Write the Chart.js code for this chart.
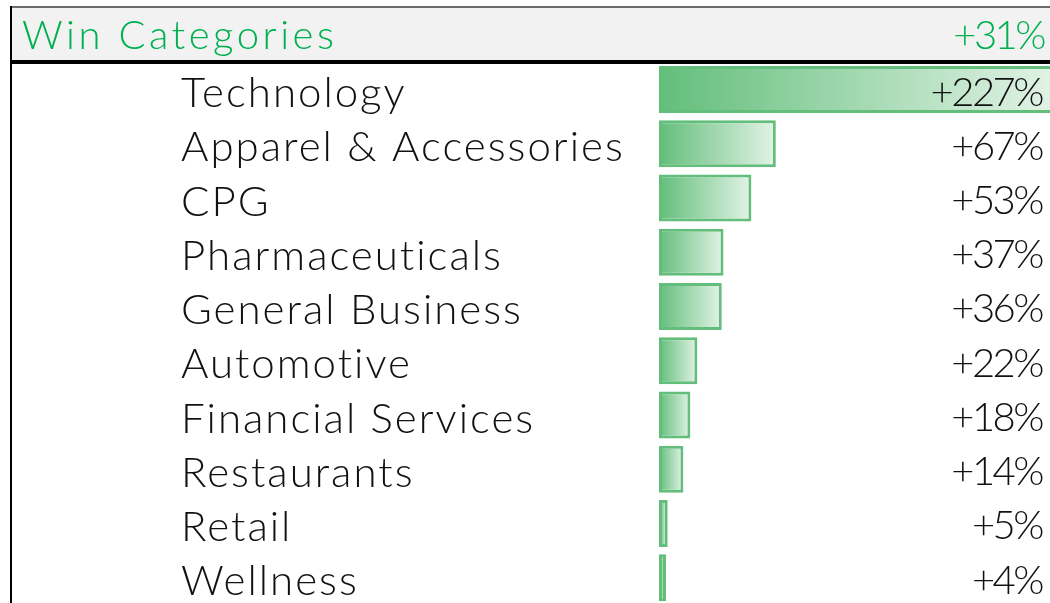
<!DOCTYPE html>
<html>
<head>
<meta charset="utf-8">
<title>Win Categories</title>
<script src="https://cdn.jsdelivr.net/npm/chart.js@4"></script>
<style>
  html, body { margin: 0; padding: 0; background: #fff; }
  #wrap { width: 1050px; height: 603px; overflow: hidden; position: relative; }
  #chart { display: block; }
</style>
</head>
<body>
<div id="wrap">
  <canvas id="chart" width="1060" height="630"></canvas>
</div>
<script>
// win categories, growth vs last year

const headerTitle = 'Win Categories';
const headerTotal = 31;

const categories = [
  'Technology',
  'Apparel & Accessories',
  'CPG',
  'Pharmaceuticals',
  'General Business',
  'Automotive',
  'Financial Services',
  'Restaurants',
  'Retail',
  'Wellness'
];
const growth = [227, 67, 53, 37, 36, 22, 18, 14, 5, 4];

const GREEN = '#00B050';
const BAR_GREEN = '#63BE7B';
const FONT = 'Lato';
const TEXT_RIGHT = 1042;

function pct(v){
  return '+' + v + '%';
}

// gray header band with title and total, plus the table borders
const headerPlugin = {
  id: 'header',
  beforeDraw(chart){
    const c = chart.ctx;
    c.save();
    c.fillStyle = '#f2f2f2';
    c.fillRect(12, 8, chart.width, 52);
    c.fillStyle = '#6b6b6b';
    c.fillRect(12, 6, chart.width, 2);
    c.fillStyle = '#000';
    c.fillRect(10, 6, 2, chart.height);
    c.fillRect(12, 60, chart.width, 4);

    c.fillStyle = GREEN;
    c.textBaseline = 'alphabetic';
    c.font = '300 40px ' + FONT;
    c.letterSpacing = '3.5px';
    c.textAlign = 'left';
    c.fillText(headerTitle, 22, 49);
    c.letterSpacing = '-2.5px';
    c.textAlign = 'right';
    c.fillText(pct(headerTotal), TEXT_RIGHT + 2, 49);
    c.restore();
    // spacing used by the category tick labels
    c.letterSpacing = '2px';
  }
};

// value text at the right edge of each row
const valuePlugin = {
  id: 'values',
  afterDatasetsDraw(chart){
    const c = chart.ctx;
    const meta = chart.getDatasetMeta(0);
    c.save();
    c.fillStyle = '#111';
    c.font = '300 40px ' + FONT;
    c.letterSpacing = '-2.5px';
    c.textAlign = 'right';
    c.textBaseline = 'alphabetic';
    meta.data.forEach((bar, i) => {
      c.fillText(pct(growth[i]), TEXT_RIGHT, bar.y + 16);
    });
    c.restore();
  }
};

function barGradient(ctx){
  const chart = ctx.chart;
  if (!chart.chartArea) return BAR_GREEN;
  const x = chart.scales.x;
  const x0 = x.getPixelForValue(0);
  const x1 = x.getPixelForValue(ctx.raw);
  const g = chart.ctx.createLinearGradient(x0, 0, x1, 0);
  g.addColorStop(0, BAR_GREEN);
  g.addColorStop(1, '#e2f3e6');
  return g;
}

const ctx = document.getElementById('chart').getContext('2d');
const myChart = new Chart(ctx, {
  type: 'bar',
  data: {
    labels: categories,
    datasets: [{
      data: growth,
      backgroundColor: barGradient,
      borderColor: BAR_GREEN,
      borderWidth: 3,
      borderSkipped: false,
      categoryPercentage: 1,
      barPercentage: 0.866
    }]
  },
  options: {
    indexAxis: 'y',
    responsive: false,
    animation: false,
    layout: {
      padding: { left: 181, top: 62.4, right: 0, bottom: 0 }
    },
    plugins: {
      legend: { display: false },
      tooltip: { enabled: false }
    },
    scales: {
      x: {
        display: false,
        min: 0,
        max: 230
      },
      y: {
        grid: { display: false, drawTicks: false },
        border: { display: false },
        ticks: {
          crossAlign: 'far',
          padding: 0,
          labelOffset: 4,
          color: '#111',
          font: { family: FONT, size: 42, weight: 300 }
        },
        afterFit(scale){
          scale.width = 478;
        }
      }
    }
  },
  plugins: [headerPlugin, valuePlugin]
});
</script>
</body>
</html>
